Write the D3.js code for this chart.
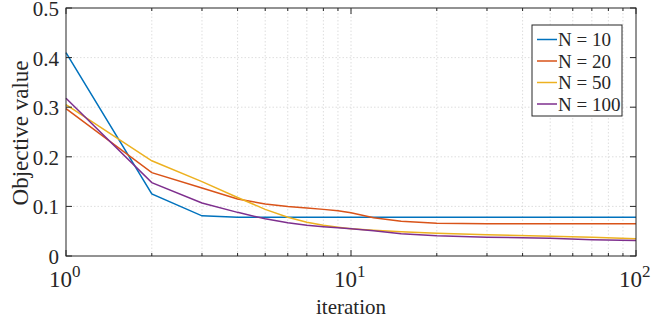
<!DOCTYPE html>
<html>
<head>
<meta charset="utf-8">
<script src="https://cdn.jsdelivr.net/npm/d3@7"></script>
<style>
  body { margin: 0; background: #fff; }
</style>
</head>
<body>
<div id="chart"></div>
<script>
const iterations = [1, 2, 3, 4, 5, 6, 7, 8, 9, 10, 12, 15, 20, 30, 50, 70, 100];
const n10  = [0.410, 0.125, 0.081, 0.078, 0.078, 0.078, 0.078, 0.078, 0.078, 0.078, 0.078, 0.078, 0.078, 0.078, 0.078, 0.078, 0.078];
const n20  = [0.297, 0.168, 0.137, 0.115, 0.105, 0.100, 0.097, 0.094, 0.091, 0.087, 0.077, 0.070, 0.066, 0.065, 0.065, 0.065, 0.065];
const n50  = [0.305, 0.192, 0.150, 0.118, 0.094, 0.078, 0.068, 0.062, 0.058, 0.055, 0.052, 0.049, 0.046, 0.043, 0.040, 0.038, 0.035];
const n100 = [0.318, 0.148, 0.107, 0.088, 0.075, 0.067, 0.062, 0.059, 0.057, 0.055, 0.051, 0.045, 0.041, 0.038, 0.036, 0.033, 0.031];
const seriesNames = ["N = 10", "N = 20", "N = 50", "N = 100"];
const yTicks = [0, 0.1, 0.2, 0.3, 0.4, 0.5];
const xMajor = [1, 10, 100];

const series = [n10, n20, n50, n100];
const colors = ["#0072BD", "#D95319", "#EDB120", "#7E2F8E"];
const serif = "'Liberation Serif', 'Times New Roman', serif";
const ink = "#262626";

const width = 664, height = 332;
const margin = { top: 8, right: 28, bottom: 76, left: 66 };

const svg = d3.select("#chart").append("svg")
    .attr("width", width)
    .attr("height", height);

const x = d3.scaleLog()
    .domain([1, 100])
    .range([margin.left, width - margin.right]);
const y = d3.scaleLinear()
    .domain([0, 0.5])
    .range([height - margin.bottom, margin.top]);

const x0 = margin.left, x1 = width - margin.right;
const y0 = height - margin.bottom, y1 = margin.top;

// minor + major x positions
const xAll = [];
for (let d = 1; d < 100; d *= 10) {
    for (let k = 1; k < 10; k++) xAll.push(d * k);
}
xAll.push(100);

const grid = svg.append("g");
grid.selectAll(".vg")
    .data(xAll.filter(v => v > 1 && v < 100))
    .enter().append("line")
    .attr("x1", d => x(d)).attr("x2", d => x(d))
    .attr("y1", y0).attr("y2", y1)
    .attr("stroke", "#d6d6d6")
    .attr("stroke-width", 0.8)
    .attr("stroke-dasharray", "1.5,2");
grid.selectAll(".hg")
    .data(yTicks.filter(v => v > 0 && v < 0.5))
    .enter().append("line")
    .attr("x1", x0).attr("x2", x1)
    .attr("y1", d => y(d)).attr("y2", d => y(d))
    .attr("stroke", "#d6d6d6")
    .attr("stroke-width", 0.8)
    .attr("stroke-dasharray", "1.5,2");

// lines
const line = d3.line()
    .x((d, i) => x(iterations[i]))
    .y(d => y(d));

svg.append("g").selectAll("path")
    .data(series)
    .enter().append("path")
    .attr("d", d => line(d))
    .attr("fill", "none")
    .attr("stroke", (d, i) => colors[i])
    .attr("stroke-width", 1.5);

// box
svg.append("rect")
    .attr("x", x0).attr("y", y1)
    .attr("width", x1 - x0).attr("height", y0 - y1)
    .attr("fill", "none")
    .attr("stroke", ink)
    .attr("stroke-width", 1);

// ticks
const ticks = svg.append("g").attr("stroke", ink).attr("stroke-width", 1);
xAll.forEach(v => {
    const len = xMajor.includes(v) ? 6 : 3;
    ticks.append("line").attr("x1", x(v)).attr("x2", x(v)).attr("y1", y0).attr("y2", y0 - len);
    ticks.append("line").attr("x1", x(v)).attr("x2", x(v)).attr("y1", y1).attr("y2", y1 + len);
});
yTicks.forEach(v => {
    ticks.append("line").attr("x1", x0).attr("x2", x0 + 6).attr("y1", y(v)).attr("y2", y(v));
    ticks.append("line").attr("x1", x1).attr("x2", x1 - 6).attr("y1", y(v)).attr("y2", y(v));
});

// y tick labels
svg.append("g").selectAll("text")
    .data(yTicks)
    .enter().append("text")
    .attr("x", x0 - 7)
    .attr("y", d => y(d) + 8)
    .attr("text-anchor", "end")
    .attr("font-size", 21)
    .attr("fill", ink)
    .style("font-family", serif)
    .text(d => d === 0 ? "0" : d.toFixed(1));

// x tick labels 10^k
const xl = svg.append("g").selectAll("text")
    .data(xMajor)
    .enter().append("text")
    .attr("x", d => x(d) - 17)
    .attr("y", y0 + 31)
    .attr("font-size", 23)
    .attr("fill", ink)
    .style("font-family", serif);
xl.append("tspan").text("10");
xl.append("tspan")
    .attr("dy", -10)
    .attr("font-size", 17)
    .text(d => Math.round(Math.log10(d)));

// axis labels
svg.append("text")
    .attr("x", (x0 + x1) / 2)
    .attr("y", 314)
    .attr("text-anchor", "middle")
    .attr("font-size", 21)
    .attr("fill", ink)
    .style("font-family", serif)
    .text("iteration");

svg.append("text")
    .attr("transform", `translate(28,${(y0 + y1) / 2 + 1}) rotate(-90)`)
    .attr("text-anchor", "middle")
    .attr("font-size", 23)
    .attr("fill", ink)
    .style("font-family", serif)
    .text("Objective value");

// legend
const legend = svg.append("g");
legend.append("rect")
    .attr("x", 532).attr("y", 25)
    .attr("width", 90).attr("height", 91)
    .attr("fill", "#fff")
    .attr("stroke", ink)
    .attr("stroke-width", 1);
seriesNames.forEach((name, i) => {
    const cy = 39.5 + i * 21.5;
    legend.append("line")
        .attr("x1", 537).attr("x2", 557)
        .attr("y1", cy).attr("y2", cy)
        .attr("stroke", colors[i])
        .attr("stroke-width", 1.5);
    legend.append("text")
        .attr("x", 558)
        .attr("y", cy + 6.5)
        .attr("font-size", 19)
        .attr("fill", ink)
        .style("font-family", serif)
        .text(name);
});
</script>
</body>
</html>
